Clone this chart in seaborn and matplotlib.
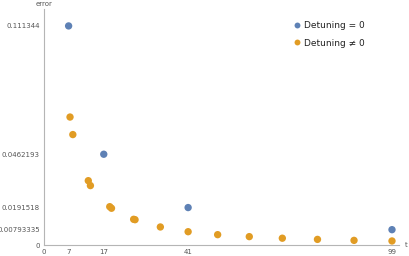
import pandas as pd
import matplotlib
matplotlib.use("Agg")
import matplotlib.pyplot as plt
import seaborn as sns

# values
t_zero = [7, 17, 41, 99]
err_zero = [0.111344, 0.0462193, 0.0191518, 0.00793335]

t_nonzero = [7.4, 8.2, 12.6, 13.2, 18.7, 19.2, 25.5, 25.9,
             33.1, 41.0, 49.4, 58.4, 67.8, 77.8, 88.2, 99.0]
err_nonzero = [0.0651, 0.0562, 0.0328, 0.0303, 0.0196, 0.0188, 0.0132, 0.0130,
               0.0093, 0.0069, 0.0054, 0.0044, 0.0036, 0.0030, 0.0025, 0.0022]

x_ticks = [0, 7, 17, 41, 99]
y_ticks = [0, 0.00793335, 0.0191518, 0.0462193, 0.111344]
y_tick_labels = ["0", "0.00793335", "0.0191518", "0.0462193", "0.111344"]

labels = ["Detuning = 0", "Detuning \u2260 0"]
colors = ["#5E81B5", "#E19C24"]

df = pd.concat([
    pd.DataFrame({"t": t_zero, "error": err_zero, "case": labels[0]}),
    pd.DataFrame({"t": t_nonzero, "error": err_nonzero, "case": labels[1]}),
])

sns.set_style("white")
plt.rcParams["font.family"] = ["DejaVu Sans"]

fig = plt.figure(figsize=(4.09, 2.56), dpi=100)
ax = fig.add_axes([0.1076, 0.0418, 0.868, 0.922])

sns.scatterplot(data=df, x="t", y="error", hue="case", hue_order=labels,
                palette=colors, s=28, linewidth=0, ax=ax, zorder=3, clip_on=False)

ax.set_xlim(0, 101)
ax.set_ylim(0, 0.1198)
ax.set_xticks(x_ticks)
ax.set_xticklabels([str(v) for v in x_ticks])
ax.set_yticks(y_ticks)
ax.set_yticklabels(y_tick_labels)
ax.set_xlabel("")
ax.set_ylabel("")

for side in ["top", "right"]:
    ax.spines[side].set_visible(False)
for side in ["left", "bottom"]:
    ax.spines[side].set_color("#b5b5b5")
    ax.spines[side].set_linewidth(0.8)
ax.tick_params(axis="both", direction="out", length=2.5, width=0.6,
               color="#b5b5b5", labelsize=5, labelcolor="#555555", pad=0.5)

fig.text(44 / 409, 1 - 4 / 256, "error", fontsize=5, color="#555555",
         ha="center", va="center")
fig.text(406 / 409, 1 - 245 / 256, "t", fontsize=5, color="#555555",
         ha="center", va="center")

leg = ax.legend(loc="upper left", bbox_to_anchor=(0.675, 0.985), frameon=False,
                fontsize=6.5, handletextpad=0.2, labelspacing=0.95,
                markerscale=0.8, handlelength=1.2)
for txt in leg.get_texts():
    txt.set_color("#222222")

fig.savefig("out.png", dpi=100)
